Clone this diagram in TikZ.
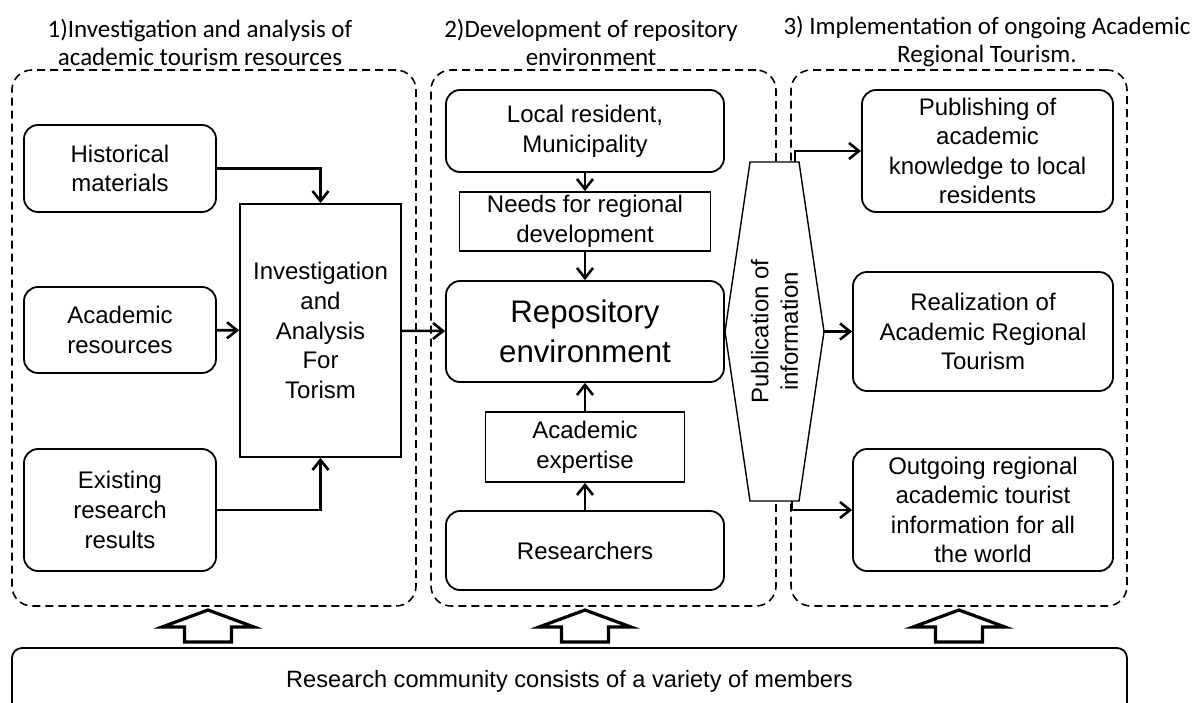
\documentclass[tikz,border=0pt]{standalone}
\usepackage{fontspec}
\setmainfont{Liberation Sans}
\newfontfamily\titlefam{Carlito}
\usetikzlibrary{arrows.meta}

\newcommand\cellfont{\fontsize{12}{14.8}\selectfont}
\newcommand\bigcellfont{\fontsize{15.6}{20}\selectfont}
\newcommand\colheadfont{\titlefam\fontsize{12.5}{14}\selectfont}

\tikzset{
  rbox/.style={draw, rounded corners=7pt, line width=0.9pt, align=center, inner sep=0pt, font=\cellfont},
  sbox/.style={draw, line width=0.9pt, align=center, inner sep=0pt, font=\cellfont},
  grpbox/.style={draw, dash pattern=on 4pt off 2.5pt, rounded corners=10pt, line width=0.8pt, inner sep=0pt},
  colhead/.style={align=center, inner sep=0pt, font=\colheadfont},
  flow/.style={->, line width=1.3pt},
  hexline/.style={draw, fill=white, line width=0.7pt},
  bigarrow/.style={draw, fill=white, line width=1.6pt, line join=miter}
}

\begin{document}
\begin{tikzpicture}[x=0.5pt,y=-0.5pt,>={Straight Barb[length=5pt,width=8pt]}]
  \useasboundingbox (0,0) rectangle (1197,702);

  % column headings
  \node[colhead] (head1) at (200,42) {1)Investigation and analysis of\\academic tourism resources};
  \node[colhead] (head2) at (591,42) {2)Development of repository\\environment};
  \node[colhead] (head3) at (987,42) {3) Implementation of ongoing Academic\\Regional Tourism.};

  % dashed groups
  \node[grpbox, minimum width=202pt, minimum height=268pt] (grp1) at (214,338) {};
  \node[grpbox, minimum width=172.5pt, minimum height=268pt] (grp2) at (603.5,338) {};
  \node[grpbox, minimum width=168pt, minimum height=268pt] (grp3) at (959,338) {};

  %%%%%%%%%% first column %%%%%%%%%%
  \node[rbox, minimum width=96pt, minimum height=43.5pt] (hist) at (120,168.5) {Historical\\materials};
  \node[rbox, minimum width=96pt, minimum height=43pt] (acad) at (120,330) {Academic\\resources};
  \node[rbox, minimum width=96pt, minimum height=61pt] (exist) at (120,510) {Existing\\research\\results};

  \node[sbox, minimum width=80.5pt, minimum height=126.5pt] (inv) at (320.5,330.5) {Investigation\\and\\Analysis\\For\\Torism};

  \draw[flow] (hist.east) -| (inv.north);
  \draw[flow] (acad) -- (inv);
  \draw[flow] (exist.east) -| (inv.south);

  %%%%%%%%%% second column %%%%%%%%%%
  \node[rbox, minimum width=139pt, minimum height=41pt] (local) at (585,131) {Local resident,\\Municipality};
  \node[sbox, minimum width=125.5pt, minimum height=29.5pt] (needs) at (585,221.5) {Needs for regional\\development};
  \node[rbox, minimum width=139pt, minimum height=50.5pt, font=\bigcellfont] (repo) at (585,331.5) {Repository\\environment};
  \node[sbox, minimum width=99.5pt, minimum height=35pt] (exper) at (585,447) {Academic\\expertise};
  \node[rbox, minimum width=139pt, minimum height=39.5pt] (resr) at (585,550.5) {Researchers};

  \draw[flow] (inv) -- (repo);
  \draw[flow] (local) -- (needs);
  \draw[flow] (needs) -- (repo);
  \draw[flow] (resr) -- (exper);
  \draw[flow] (exper) -- (repo);

  % publication hexagon
  \draw[hexline] (750,162) -- (799,162) -- (824,331.5) -- (799,501) -- (750,501) -- (725,331.5) -- cycle;
  \node[rotate=90, align=center, inner sep=0pt, font=\cellfont] (pub) at (774.5,331.5) {Publication of\\information};
  \coordinate (hxtop) at (795,162);
  \coordinate (hxright) at (824,331.5);
  \coordinate (hxbot) at (792,501);

  %%%%%%%%%% third column %%%%%%%%%%
  \node[rbox, minimum width=125.5pt, minimum height=61pt] (publ) at (987.5,151) {Publishing of\\academic\\knowledge to local\\residents};
  \node[rbox, minimum width=130pt, minimum height=59.5pt] (real) at (983,331.5) {Realization of\\Academic Regional\\Tourism};
  \node[rbox, minimum width=130pt, minimum height=61pt] (outg) at (983,510) {Outgoing regional\\academic tourist\\information for all\\the world};

  \draw[flow] (hxtop) |- (publ.west);
  \draw[flow] (hxright) -- (real.west);
  \draw[flow] (hxbot) |- (outg.west);

  % research community
  \draw[bigarrow] (208,610) -- ++(46,17) -- ++(-22.5,0) -- ++(0,15) -- ++(-47,0) -- ++(0,-15) -- ++(-22.5,0) -- cycle;
  \draw[bigarrow] (585,610) -- ++(46,17) -- ++(-22.5,0) -- ++(0,15) -- ++(-47,0) -- ++(0,-15) -- ++(-22.5,0) -- cycle;
  \draw[bigarrow] (959,610) -- ++(46,17) -- ++(-22.5,0) -- ++(0,15) -- ++(-47,0) -- ++(0,-15) -- ++(-22.5,0) -- cycle;

  \node[draw, rounded corners=5pt, line width=0.9pt, minimum width=557.5pt, minimum height=33pt, inner sep=0pt, font=\fontsize{11.8}{14}\selectfont] (comm) at (569.5,681) {Research community consists of a variety of members};
\end{tikzpicture}
\end{document}
